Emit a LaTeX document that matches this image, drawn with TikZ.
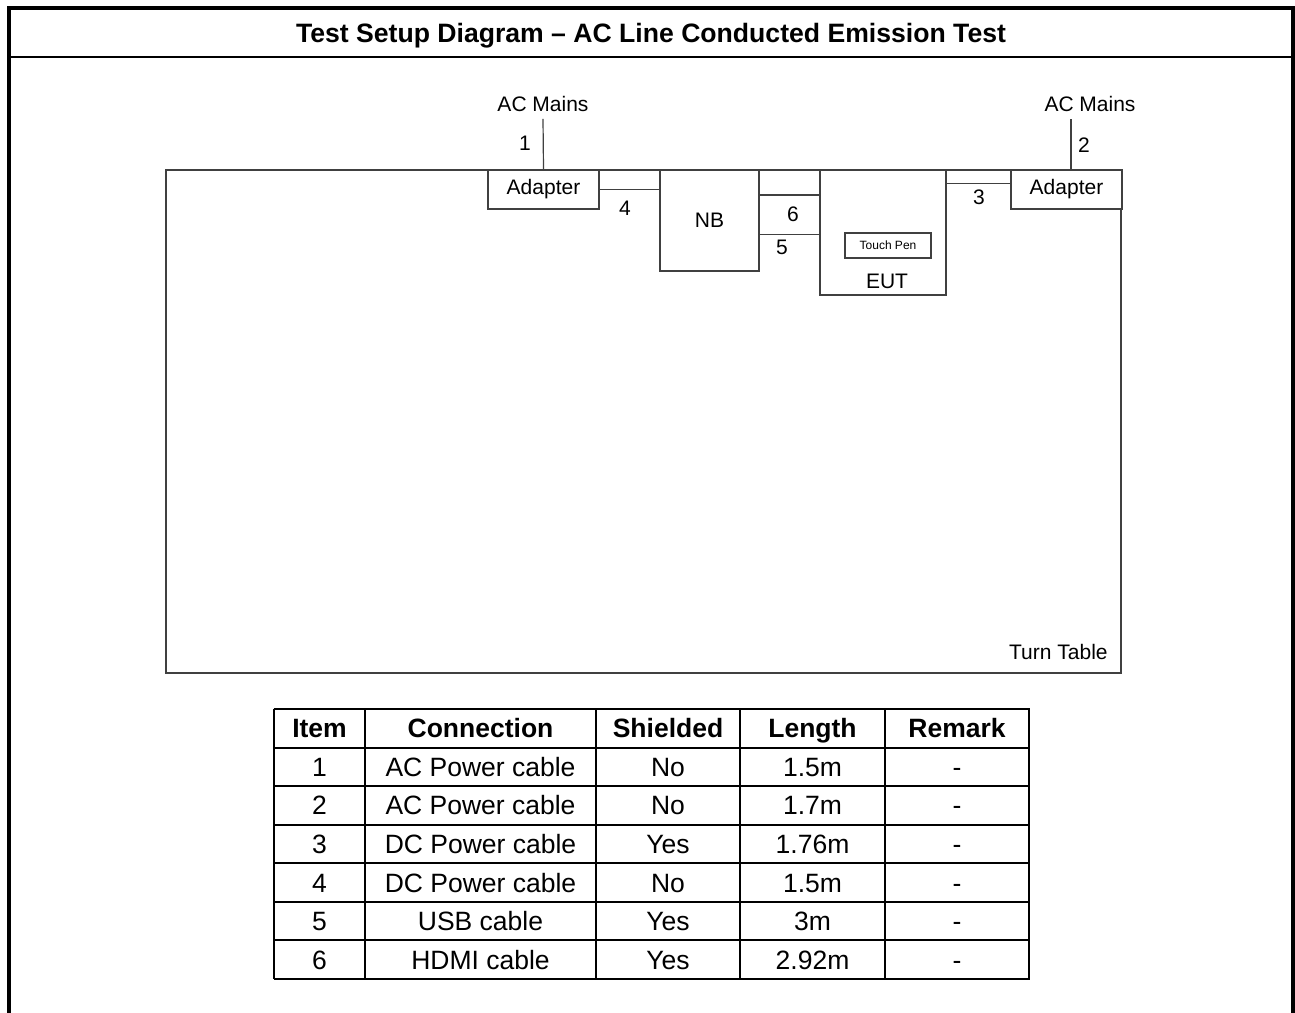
\documentclass[tikz,border=0pt]{standalone}
\usepackage{fontspec}
\setmainfont{Liberation Sans}
\usetikzlibrary{calc}

\begin{document}
\begin{tikzpicture}[
    x=0.5pt, y=-0.5pt,
    box/.style={draw=black!75, line width=0.6pt, fill=white, inner sep=0, font=\fontsize{10.5}{12}\selectfont},
    cable/.style={draw=black!75, line width=0.6pt},
    tag/.style={inner sep=0, text height=7.5pt, text depth=0pt, font=\fontsize{10.5}{12}\selectfont},
    mains/.style={tag, inner sep=3.5pt},
    cell/.style={inner sep=0, text height=9.5pt, text depth=0pt, font=\fontsize{13.25}{15}\selectfont},
    head/.style={cell, font=\fontsize{13.25}{15}\selectfont\bfseries},
    grid/.style={line width=1pt}
]
\useasboundingbox (0,0) rectangle (1295,1012);

% Frame and title
\draw[line width=1.75pt] (9,1030) -- (9,8) -- (1293,8) -- (1293,1030);
\draw[line width=1.35pt] (9,57) -- (1293,57);
\node[cell, font=\fontsize{13.3}{15}\selectfont\bfseries] (title) at (651,32.5)
    {Test Setup Diagram -- AC Line Conducted Emission Test};

% Turn table and equipment
\node[box, minimum width=477.5pt, minimum height=251.5pt] (tt) at (643.5,421.5) {};
\node[tag, anchor=east] (ttlbl) at (1108,652) {Turn Table};

\node[box, minimum width=55.5pt, minimum height=19.5pt] (adl) at (543.5,189.5) {Adapter};
\node[box, minimum width=49.5pt, minimum height=50.5pt] (nb) at (709.5,220.5) {NB};
\node[box, minimum width=63pt, minimum height=62.5pt] (eut) at (883,232.5) {};
\node[tag] (eutlbl) at (887,281) {EUT};
\node[box, minimum width=43pt, minimum height=12.5pt, font=\fontsize{6}{7}\selectfont] (pen) at (888,245.5) {Touch Pen};
\node[box, minimum width=55.5pt, minimum height=19.5pt] (adr) at (1066.5,189.5) {Adapter};

\node[mains] (acl) at (543,104) {AC Mains};
\node[mains] (acr) at (1090,104) {AC Mains};

% Cables
\coordinate (c6) at ($(nb.north east)!0.25!(nb.south east)$);
\coordinate (c5) at ($(nb.north east)!0.64!(nb.south east)$);
\coordinate (c3) at ($(eut.north east)!0.11!(eut.south east)$);
\draw[cable] (acl.south) -- (adl.north);
\draw[cable] ([xshift=2.25pt]adr.north) -- ([xshift=2.25pt]adr.north |- acr.south);
\draw[cable] (adl.east) -- (adl.east -| nb.west);
\draw[cable] (c6) -- (c6 -| eut.west);
\draw[cable] (c5) -- (c5 -| eut.west);
\draw[cable] (c3) -- (c3 -| adr.west);

\node[tag] (n1) at (525,143) {1};
\node[tag] (n2) at (1084,145) {2};
\node[tag] (n3) at (979,197) {3};
\node[tag] (n4) at (625,208) {4};
\node[tag] (n5) at (782,247) {5};
\node[tag] (n6) at (793,214) {6};

% Cable table
\foreach \x in {274,365,596,740,885,1029}
    \draw[grid] (\x,709) -- (\x,979);
\foreach \k in {0,...,7}
    \draw[grid] (273.5,{709+38.571*\k}) -- (1029.5,{709+38.571*\k});

\foreach \t/\x [count=\c] in {Item/319.5, Connection/480.5, Shielded/668, Length/812.5, Remark/957}
    \node[head] (h\c) at (\x,728.3) {\t};

\foreach \i/\conn/\sh/\len [count=\r] in {
    1/AC Power cable/No/1.5m,
    2/AC Power cable/No/1.7m,
    3/DC Power cable/Yes/1.76m,
    4/DC Power cable/No/1.5m,
    5/USB cable/Yes/3m,
    6/HDMI cable/Yes/2.92m}
{
    \node[cell] (item\r) at (319.5,{709+38.571*(\r+0.5)}) {\i};
    \node[cell] (conn\r) at (480.5,{709+38.571*(\r+0.5)}) {\conn};
    \node[cell] (shld\r) at (668,{709+38.571*(\r+0.5)}) {\sh};
    \node[cell] (len\r) at (812.5,{709+38.571*(\r+0.5)}) {\len};
    \node[cell] (rmk\r) at (957,{709+38.571*(\r+0.5)}) {-};
}
\end{tikzpicture}
\end{document}
